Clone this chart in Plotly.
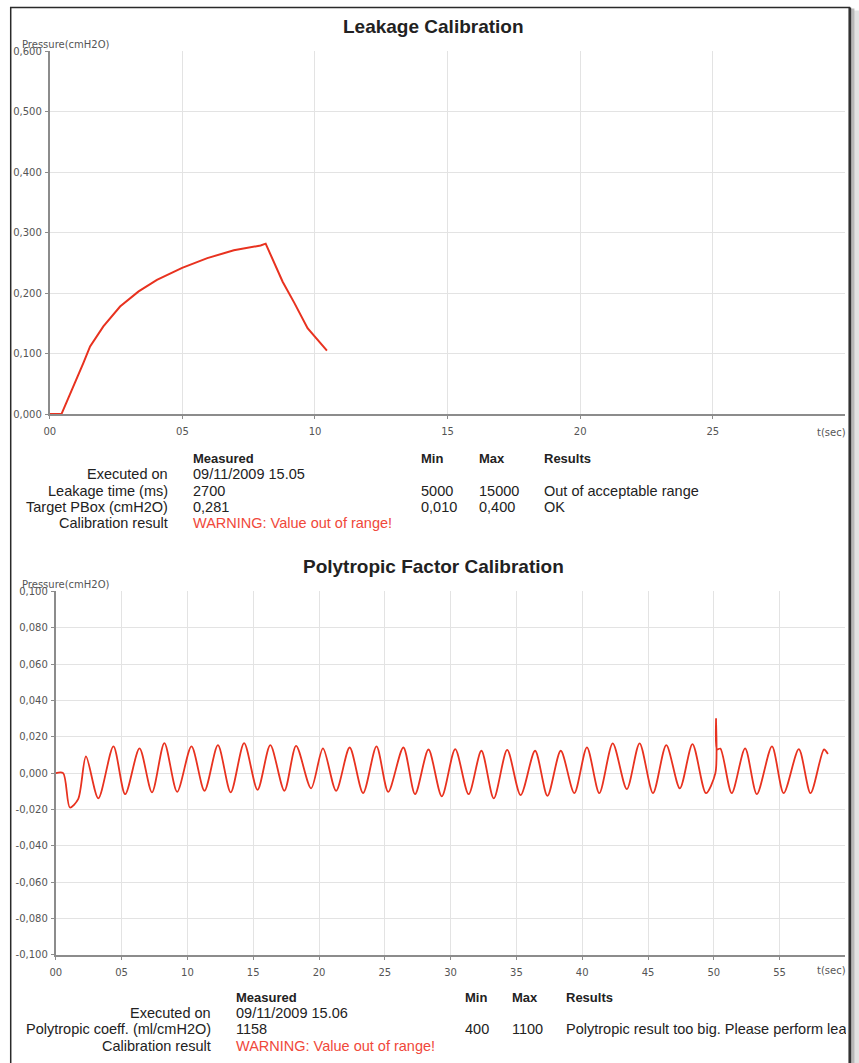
import plotly.graph_objects as go

# ---------------- data ----------------
LEAK_T = [0.0, 0.44, 1.26, 1.52, 2.02, 2.65, 3.35, 4.04, 4.99, 5.94, 6.94, 7.95, 8.14,
          8.46, 8.78, 9.22, 9.72, 10.45]
LEAK_P = [0.0, 0.0, 0.084, 0.112, 0.145, 0.178, 0.203, 0.222, 0.242, 0.258, 0.271, 0.279, 0.282,
          0.250, 0.219, 0.184, 0.142, 0.105]

POLY_T = [0.0, 0.56, 1.07, 1.7, 2.29, 3.23, 4.38, 5.27, 6.36, 7.31, 8.25, 9.22, 10.31, 11.3,
          12.32, 13.29, 14.31, 15.33, 16.3, 17.37, 18.26, 19.4, 20.3, 21.3, 22.33, 23.35,
          24.37, 25.26, 26.41, 27.3, 28.32, 29.33, 30.35, 31.37, 32.34, 33.28, 34.3, 35.32,
          36.42, 37.36, 38.37, 39.4, 40.36, 41.3, 42.32, 43.39, 44.36, 45.38, 46.39, 47.42,
          48.38, 49.4, 50.12, 50.17, 50.24, 50.5, 51.36, 52.38, 53.27, 54.42, 55.31, 56.46,
          57.35, 58.37, 58.67]
POLY_P = [0.0, 0.0, -0.0189, -0.0143, 0.0092, -0.0139, 0.0147, -0.0116, 0.0136, -0.0106,
          0.0165, -0.0103, 0.0147, -0.0097, 0.0154, -0.0106, 0.0165, -0.0092, 0.0154, -0.0097,
          0.0150, -0.0084, 0.0136, -0.0097, 0.0141, -0.0110, 0.0147, -0.0103, 0.0141, -0.0116,
          0.0130, -0.0128, 0.0132, -0.0116, 0.0123, -0.0139, 0.0128, -0.0121, 0.0123, -0.0125,
          0.0123, -0.0110, 0.0142, -0.0110, 0.0164, -0.0088, 0.0164, -0.0110, 0.0154, -0.0084,
          0.0160, -0.0110, 0.0000, 0.0298, 0.0130, 0.0135, -0.0110, 0.0136, -0.0116, 0.0147,
          -0.0110, 0.0132, -0.0110, 0.0130, 0.0105]

LEAK_XTICKS = [0, 5, 10, 15, 20, 25]
LEAK_XLABELS = ["00", "05", "10", "15", "20", "25"]
LEAK_YTICKS = [0.0, 0.1, 0.2, 0.3, 0.4, 0.5, 0.6]
LEAK_YLABELS = ["0,000", "0,100", "0,200", "0,300", "0,400", "0,500", "0,600"]

POLY_XTICKS = [0, 5, 10, 15, 20, 25, 30, 35, 40, 45, 50, 55]
POLY_XLABELS = ["00", "05", "10", "15", "20", "25", "30", "35", "40", "45", "50", "55"]
POLY_YTICKS = [-0.1, -0.08, -0.06, -0.04, -0.02, 0.0, 0.02, 0.04, 0.06, 0.08, 0.1]
POLY_YLABELS = ["-0,100", "-0,080", "-0,060", "-0,040", "-0,020", "0,000",
                "0,020", "0,040", "0,060", "0,080", "0,100"]

LEAK_TABLE_LABELS = ["Executed on", "Leakage time (ms)", "Target PBox (cmH2O)", "Calibration result"]
LEAK_TABLE_MEASURED = ["09/11/2009 15.05", "2700", "0,281", "WARNING: Value out of range!"]
LEAK_TABLE_MIN = ["", "5000", "0,010", ""]
LEAK_TABLE_MAX = ["", "15000", "0,400", ""]
LEAK_TABLE_RESULTS = ["", "Out of acceptable range", "OK", ""]

POLY_TABLE_LABELS = ["Executed on", "Polytropic coeff. (ml/cmH2O)", "Calibration result"]
POLY_TABLE_MEASURED = ["09/11/2009 15.06", "1158", "WARNING: Value out of range!"]
POLY_TABLE_MIN = ["", "400", ""]
POLY_TABLE_MAX = ["", "1100", ""]
POLY_TABLE_RESULTS = ["", "Polytropic result too big. Please perform leakage calibration", ""]

# ---------------- helpers ----------------
W, H = 859, 1063
# target pixel positions (as seen in the reference) -> paper coordinates
def px(x):
    return ((x - 6.3) / 0.991) / W
def py(y):
    return 1 - ((y - 5.6) / 0.989) / H

RED = "#e8321f"
WARN = "#f0483a"
AXC = "#8c8c8c"
GRID = "#e3e3e3"
TICKFONT = dict(family="DejaVu Sans", size=10, color="#555555")
TXT = "Liberation Sans"

fig = go.Figure()
fig.add_trace(go.Scatter(x=LEAK_T, y=LEAK_P, mode="lines", xaxis="x", yaxis="y",
                         line=dict(color=RED, width=2), showlegend=False, hoverinfo="skip"))
fig.add_trace(go.Scatter(x=POLY_T, y=POLY_P, mode="lines", xaxis="x2", yaxis="y2",
                         line=dict(color=RED, width=1.8, shape="spline", smoothing=0.8),
                         showlegend=False, hoverinfo="skip"))

axis_common = dict(showgrid=True, gridcolor=GRID, gridwidth=1, zeroline=False,
                   showline=True, linecolor=AXC, linewidth=2, ticks="outside",
                   ticklen=3, tickcolor=AXC, tickfont=TICKFONT, fixedrange=True)

fig.update_layout(
    width=W, height=H, autosize=False,
    margin=dict(l=0, r=0, t=0, b=0),
    paper_bgcolor="white", plot_bgcolor="rgba(0,0,0,0)",
    xaxis=dict(domain=[px(50), px(844)], range=[0, 30], anchor="y",
               tickvals=LEAK_XTICKS, ticktext=LEAK_XLABELS, ticklabelstandoff=4, **axis_common),
    yaxis=dict(domain=[py(414), py(52)], range=[0, 0.6], anchor="x",
               tickvals=LEAK_YTICKS, ticktext=LEAK_YLABELS, ticklabelstandoff=1, **axis_common),
    xaxis2=dict(domain=[px(56), px(844)], range=[0, 60], anchor="y2",
                tickvals=POLY_XTICKS, ticktext=POLY_XLABELS, ticklabelstandoff=4, **axis_common),
    yaxis2=dict(domain=[py(954), py(591)], range=[-0.1, 0.1], anchor="x2",
                tickvals=POLY_YTICKS, ticktext=POLY_YLABELS, ticklabelstandoff=1, **axis_common),
)

shapes = [
    dict(type="rect", xref="paper", yref="paper", x0=px(14), x1=px(860), y0=py(1090), y1=py(11),
         fillcolor="#e2e2e2", line_width=0, layer="below"),
    dict(type="rect", xref="paper", yref="paper", x0=px(12), x1=px(853), y0=py(1090), y1=py(9),
         fillcolor="#b8b8b8", line_width=0, layer="below"),
    dict(type="rect", xref="paper", yref="paper", x0=px(11), x1=px(848), y0=py(1090), y1=py(8),
         fillcolor="white", line=dict(color="#2a2a2a", width=1.5), layer="below"),
    dict(type="line", xref="paper", yref="paper", x0=px(848.5), x1=px(848.5), y0=py(1090), y1=py(8),
         line=dict(color="#333333", width=2.5), layer="below"),
]
fig.update_layout(shapes=shapes)

ann = []
def text(x, y, s, anchor="left", size=14.5, color="#222222", bold=False, family=TXT, width=None):
    a = dict(xref="paper", yref="paper", x=px(x), y=py(y), text=("<b>%s</b>" % s) if bold else s,
             showarrow=False, xanchor=anchor, yanchor="middle", borderpad=0,
             font=dict(family=family, size=size, color=color))
    if width is not None:
        a["width"] = width
        a["align"] = "left"
    ann.append(a)

# titles
text(433, 27, "Leakage Calibration", anchor="center", size=19, bold=True)
text(433, 566, "Polytropic Factor Calibration", anchor="center", size=19, bold=True)
# axis labels
text(21, 45, "Pressure(cmH2O)", size=10, color="#555555", family="DejaVu Sans")
text(21, 584, "Pressure(cmH2O)", size=10, color="#555555", family="DejaVu Sans")
text(846, 432, "t(sec)", anchor="right", size=10, color="#555555", family="DejaVu Sans")
text(846, 970, "t(sec)", anchor="right", size=10, color="#555555", family="DejaVu Sans")

# leakage table
text(192, 458, "Measured", bold=True, size=13)
text(419, 458, "Min", bold=True, size=13)
text(477, 458, "Max", bold=True, size=13)
text(542, 458, "Results", bold=True, size=13)
for i, yy in enumerate([474, 491, 507, 523]):
    text(169, yy, LEAK_TABLE_LABELS[i], anchor="right")
    text(192, yy, LEAK_TABLE_MEASURED[i], color=WARN if i == 3 else "#222222")
    if LEAK_TABLE_MIN[i]:
        text(419, yy, LEAK_TABLE_MIN[i])
    if LEAK_TABLE_MAX[i]:
        text(477, yy, LEAK_TABLE_MAX[i])
    if LEAK_TABLE_RESULTS[i]:
        text(542, yy, LEAK_TABLE_RESULTS[i])

# polytropic table
text(235, 997, "Measured", bold=True, size=13)
text(463, 997, "Min", bold=True, size=13)
text(510, 997, "Max", bold=True, size=13)
text(564, 997, "Results", bold=True, size=13)
for i, yy in enumerate([1012, 1028, 1045]):
    text(212, yy, POLY_TABLE_LABELS[i], anchor="right")
    text(235, yy, POLY_TABLE_MEASURED[i], color=WARN if i == 2 else "#222222")
    if POLY_TABLE_MIN[i]:
        text(463, yy, POLY_TABLE_MIN[i])
    if POLY_TABLE_MAX[i]:
        text(510, yy, POLY_TABLE_MAX[i])
    if POLY_TABLE_RESULTS[i]:
        # clipped at the page frame, as in the reference
        text(564, yy, POLY_TABLE_RESULTS[i], width=280)

fig.update_layout(annotations=ann)
fig.write_html("out.html",
               config={"displayModeBar": False, "staticPlot": True},
               post_script="document.body.style.margin='0';document.body.style.overflow='hidden';")
